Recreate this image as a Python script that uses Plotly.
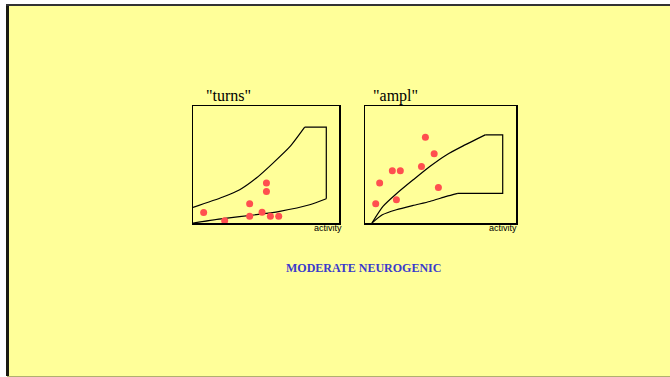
import plotly.graph_objects as go

W, H = 670, 377

# ---- data (0-100 scales inside each box) ----
turns_upper_x = [0, 20.5, 32.0, 43.4, 54.8, 66.2, 76.5]
turns_upper_y = [13.3, 22.2, 28.4, 38.4, 51.2, 65.0, 82.0]
turns_bracket_x = [76.5, 91.3, 91.3]
turns_bracket_y = [82.0, 82.0, 20.7]
turns_lower_x = [91.3, 79.9, 59.4, 43.4, 20.5, 0]
turns_lower_y = [20.7, 15.6, 10.0, 7.1, 3.7, 0]
turns_pts_x = [7.3, 21.7, 38.8, 38.8, 47.3, 50.3, 50.3, 53.0, 58.7]
turns_pts_y = [9.0, 2.0, 16.5, 5.7, 9.1, 34.1, 27.0, 5.7, 5.7]

ampl_upper_x = [4.6, 11.9, 20.8, 31.9, 42.9, 53.9, 65.0, 79.6]
ampl_upper_y = [0, 14.2, 25.0, 36.9, 48.3, 58.2, 65.9, 75.3]
ampl_bracket_x = [79.6, 91.2, 91.2, 61.5]
ampl_bracket_y = [75.3, 75.3, 25.3, 25.3]
ampl_lower_x = [61.5, 53.9, 42.9, 31.9, 20.8, 11.5, 4.6]
ampl_lower_y = [25.3, 22.7, 18.4, 15.0, 11.3, 7.0, 0]
ampl_pts_x = [7.1, 9.7, 18.1, 23.4, 20.8, 37.4, 40.0, 45.8, 48.6]
ampl_pts_y = [16.5, 34.1, 44.6, 44.6, 19.9, 48.3, 73.3, 59.1, 30.4]

titles = ['"turns"', '"ampl"']
xlabel = "activity"
caption = "MODERATE NEUROGENIC"

fig = go.Figure()

line_style = dict(color="black", width=1.2)
dot_style = dict(color="#FF4F4F", size=7)

def add_panel(xa, ya, ux, uy, bx, by, lx, ly, px, py):
    fig.add_trace(go.Scatter(x=ux, y=uy, mode="lines", line=dict(**line_style, shape="spline", smoothing=0.6),
                             xaxis=xa, yaxis=ya, hoverinfo="skip"))
    fig.add_trace(go.Scatter(x=bx, y=by, mode="lines", line=line_style,
                             xaxis=xa, yaxis=ya, hoverinfo="skip"))
    fig.add_trace(go.Scatter(x=lx, y=ly, mode="lines", line=dict(**line_style, shape="spline", smoothing=0.6),
                             xaxis=xa, yaxis=ya, hoverinfo="skip"))
    fig.add_trace(go.Scatter(x=px, y=py, mode="markers", marker=dot_style,
                             xaxis=xa, yaxis=ya))

add_panel("x", "y", turns_upper_x, turns_upper_y, turns_bracket_x, turns_bracket_y,
          turns_lower_x, turns_lower_y, turns_pts_x, turns_pts_y)
add_panel("x2", "y2", ampl_upper_x, ampl_upper_y, ampl_bracket_x, ampl_bracket_y,
          ampl_lower_x, ampl_lower_y, ampl_pts_x, ampl_pts_y)

ydom = [1 - 223 / H, 1 - 106 / H]
ax_common = dict(range=[0, 100], showgrid=False, zeroline=False, showticklabels=False,
                 ticks="", showline=True, linecolor="black", linewidth=1.5, mirror=True,
                 fixedrange=True)

def ann(text, x, y, font):
    return dict(text=text, xref="paper", yref="paper", x=x / W, y=1 - y / H,
                xanchor="center", yanchor="middle", showarrow=False, font=font)

serif16 = dict(family="Liberation Serif", size=16, color="black")
sans9 = dict(family="Liberation Sans", size=9, color="black")

fig.update_layout(
    width=W, height=H,
    margin=dict(l=0, r=0, t=0, b=0),
    paper_bgcolor="white",
    plot_bgcolor="rgba(0,0,0,0)",
    showlegend=False,
    xaxis=dict(domain=[193 / W, 339 / W], anchor="y", **ax_common),
    yaxis=dict(domain=ydom, anchor="x", **ax_common),
    xaxis2=dict(domain=[365 / W, 516 / W], anchor="y2", **ax_common),
    yaxis2=dict(domain=ydom, anchor="x2", **ax_common),
    shapes=[
        dict(type="rect", xref="paper", yref="paper", x0=7 / W, x1=1, y0=1 - 376 / H, y1=1 - 5 / H,
             fillcolor="#FFFF99", line=dict(width=0), layer="below"),
        dict(type="line", xref="paper", yref="paper", x0=7.5 / W, x1=7.5 / W, y0=1 - 376 / H, y1=1 - 4 / H,
             line=dict(color="#1a1a10", width=3), layer="below"),
        dict(type="line", xref="paper", yref="paper", x0=6 / W, x1=1, y0=1 - 5 / H, y1=1 - 5 / H,
             line=dict(color="#333333", width=2), layer="below"),
        dict(type="line", xref="paper", yref="paper", x0=7 / W, x1=1, y0=1 - 376.5 / H, y1=1 - 376.5 / H,
             line=dict(color="#B0B070", width=1), layer="below"),
    ],
    annotations=[
        ann(titles[0], 228, 96, serif16),
        ann(titles[1], 395, 96, serif16),
        ann(xlabel, 328, 228, sans9),
        ann(xlabel, 503, 228, sans9),
        ann("<b>" + caption + "</b>", 363, 268,
            dict(family="Liberation Serif", size=12, color="#3A3ACC")),
    ],
)

fig.write_html(
    "out.html",
    config={"displayModeBar": False, "staticPlot": True},
    post_script="document.body.style.margin='0';document.body.style.overflow='hidden';",
)
